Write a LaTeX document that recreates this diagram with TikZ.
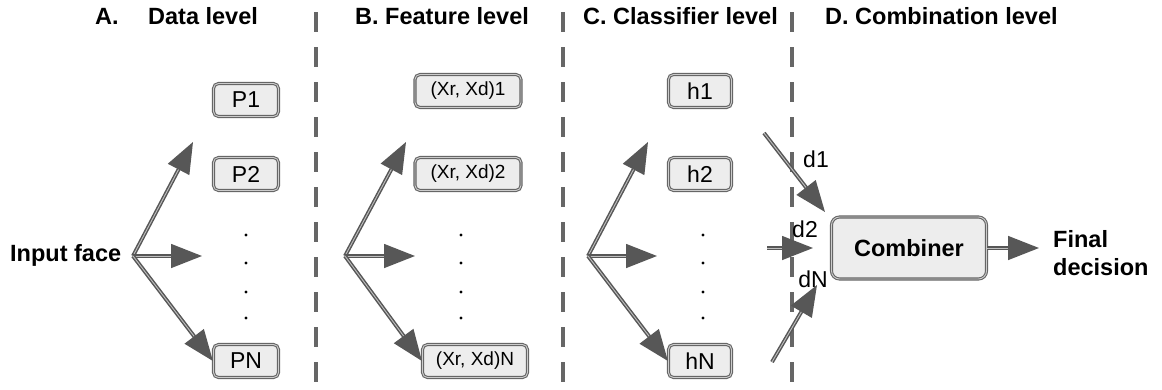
\documentclass[tikz,border=0pt]{standalone}
\usepackage{fontspec}
\setmainfont{Liberation Sans}
\usetikzlibrary{arrows.meta, positioning}

\tikzset{
    levelbox/.style={draw=black!60, double=black!20, double distance=0.9pt,
        line width=1.1pt, fill=black!7, rounded corners=5pt, inner sep=0pt,
        minimum height=33pt, font=\fontsize{23}{27}\selectfont},
    flowarrow/.style={draw=black!66, double=black!25, double distance=0.9pt,
        line width=1.5pt, -{Triangle[length=31pt,width=24pt]}},
    divider/.style={draw=black!60, line width=3.2pt, dash pattern=on 20pt off 15pt},
    heading/.style={font=\bfseries\fontsize{23.5}{27}\selectfont, anchor=base west,
        inner sep=0pt},
    plainlabel/.style={font=\fontsize{23}{27}\selectfont, inner sep=0pt}
}

\begin{document}
\begin{tikzpicture}[x=1pt,y=-1pt]
    \useasboundingbox (0,0) rectangle (1162,389);

    % headings
    \draw node [heading] (hdA) at (95,24) {A.};
    \draw node [heading] (hdAt) at (148,24) {Data level};
    \draw node [heading] (hdB) at (355,24) {B. Feature level};
    \draw node [heading] (hdC) at (583,24) {C. Classifier level};
    \draw node [heading] (hdD) at (825,24) {D. Combination level};

    % dividers
    \draw [divider] (316,12) -- (316,389);
    \draw [divider] (563,12) -- (563,389);
    \draw [divider] (792,12) -- (792,389);

    % A. data level
    \draw node [heading] (inp) at (10,261) {Input face};
    \coordinate (oA) at (133,256);
    \draw node [levelbox,minimum width=65pt] (P1) at (246,100) {P1};
    \draw node [levelbox,minimum width=65pt] (P2) at (246,174) {P2};
    \draw node [levelbox,minimum width=65pt] (PN) at (246,361) {PN};
    \coordinate (tA1) at (193,142);
    \coordinate (tA2) at (202,256);
    \draw [flowarrow] (oA) -- (tA1);
    \draw [flowarrow] (oA) -- (tA2);
    \draw [flowarrow] (oA) -- (PN.west);

    % B. feature level
    \coordinate (oB) at (345,256);
    \draw node [levelbox,minimum width=106pt,font=\fontsize{19}{23}\selectfont]
        (X1) at (468,91) {(Xr, Xd)1};
    \draw node [levelbox,minimum width=106pt,font=\fontsize{19}{23}\selectfont]
        (X2) at (468,174) {(Xr, Xd)2};
    \draw node [levelbox,minimum width=105pt,font=\fontsize{19}{23}\selectfont]
        (XN) at (475,361) {(Xr, Xd)N};
    \coordinate (tB1) at (406,142);
    \coordinate (tB2) at (415,256);
    \draw [flowarrow] (oB) -- (tB1);
    \draw [flowarrow] (oB) -- (tB2);
    \draw [flowarrow] (oB) -- (XN.west);

    % C. classifier level
    \coordinate (oC) at (588,256);
    \draw node [levelbox,minimum width=63pt] (h1) at (700,91) {h1};
    \draw node [levelbox,minimum width=63pt] (h2) at (700,174) {h2};
    \draw node [levelbox,minimum width=63pt] (hN) at (700,361) {hN};
    \coordinate (tC1) at (648,142);
    \coordinate (tC2) at (657,256);
    \draw [flowarrow] (oC) -- (tC1);
    \draw [flowarrow] (oC) -- (tC2);
    \draw [flowarrow] (oC) -- (hN.west);

    % vertical dots
    \foreach \cx in {246,461,703}
        \foreach \cy in {235,263,292,318}
            \fill (\cx,\cy) circle (1.7pt);

    % D. combination level
    \draw node [levelbox,minimum width=155pt,minimum height=62pt,rounded corners=8pt,
        font=\bfseries\fontsize{23.5}{27}\selectfont] (comb) at (909,248) {Combiner};
    \coordinate (sd1) at (764,133);
    \coordinate (ed1) at (825,212);
    \coordinate (sd2) at (767,248);
    \coordinate (ed2) at (813,248);
    \coordinate (sdN) at (772,362);
    \coordinate (edN) at (817,285);
    \draw [flowarrow] (sd1) -- (ed1);
    \draw [flowarrow] (sd2) -- (ed2);
    \draw [flowarrow] (sdN) -- (edN);
    \draw node [plainlabel] (d1) at (816,159) {d1};
    \draw node [plainlabel] (d2) at (805,229) {d2};
    \draw node [plainlabel] (dN) at (813,279) {dN};
    \coordinate (tOut) at (1039,248);
    \draw [flowarrow] (comb.east) -- (tOut);
    \draw node [anchor=west,align=left,inner sep=0pt,
        font=\bfseries\fontsize{23.5}{28}\selectfont] (fin) at (1053,253)
        {Final\\decision};
\end{tikzpicture}
\end{document}
